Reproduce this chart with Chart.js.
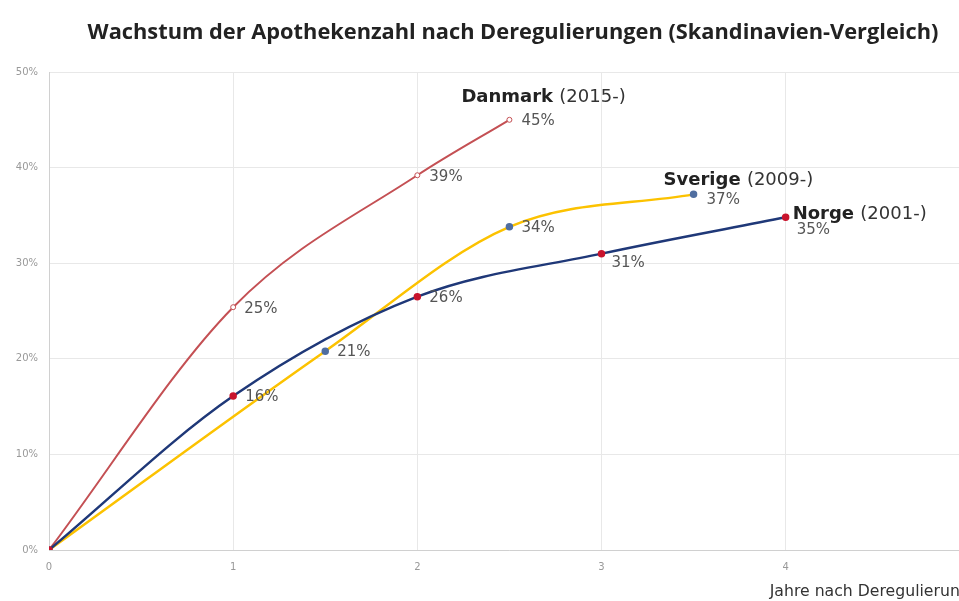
<!DOCTYPE html>
<html>
<head>
<meta charset="utf-8">
<script src="https://cdn.jsdelivr.net/npm/chart.js@4"></script>
<style>
  html, body { margin: 0; padding: 0; overflow: hidden; background: #fff; }
  #wrap { width: 984px; height: 601px; position: relative; }
</style>
</head>
<body>
<div id="wrap"><canvas id="growth" width="984" height="601"></canvas></div>
<script>
(() => {
  'use strict'

  const chartTitle = 'Wachstum der Apothekenzahl nach Deregulierungen (Skandinavien-Vergleich)'
  const xTitle = 'Jahre nach Deregulierung'

  const countries = ['Danmark', 'Norge', 'Sverige']
  const periods = ['(2015-)', '(2001-)', '(2009-)']

  const danmarkYears = [0, 1, 2, 2.5]
  const danmarkGrowth = [0, 25.4, 39.2, 45]
  const danmarkLabels = ['', '25%', '39%', '45%']

  const norgeYears = [0, 1, 2, 3, 4]
  const norgeGrowth = [0, 16.1, 26.5, 31, 34.8]
  const norgeLabels = ['', '16%', '26%', '31%', '35%']

  const sverigeYears = [0, 1.5, 2.5, 3.5]
  const sverigeGrowth = [0, 20.8, 33.8, 37.2]
  const sverigeLabels = ['', '21%', '34%', '37%']

  const points = (xs, ys) => xs.map((x, i) => ({ x: x, y: ys[i] }))

  // label offsets from the point (px)
  const valueOffset = { Danmark: [[0, 0], [11, 2], [12, 2], [12, 1]],
                        Norge: [[0, 0], [12, 1], [12, 1], [10, 9], [11, 13]],
                        Sverige: [[0, 0], [12, 1], [12, 1], [13, 6]] }
  const nameOffset = { Danmark: [-48, -22], Norge: [7, -3], Sverige: [-30, -14] }

  const labelPlugin = {
    id: 'labels',
    afterDatasetsDraw(chart) {
      const c = chart.ctx
      c.save()
      c.fillStyle = '#222'
      c.font = 'bold 21.8px "Open Sans"'
      c.textAlign = 'center'
      c.textBaseline = 'middle'
      c.fillText(chartTitle, 513, 33)

      c.textAlign = 'left'
      chart.data.datasets.forEach((ds, di) => {
        const meta = chart.getDatasetMeta(di)
        c.font = '15px "DejaVu Sans"'
        c.fillStyle = '#555'
        meta.data.forEach((el, i) => {
          const txt = ds.valueLabels[i]
          if (!txt) return
          const off = valueOffset[ds.label][i]
          c.fillText(txt, el.x + off[0], el.y + off[1])
        })
        const last = meta.data[meta.data.length - 1]
        const no = nameOffset[ds.label]
        c.font = 'bold 18px "DejaVu Sans"'
        c.fillStyle = '#222'
        c.fillText(ds.label, last.x + no[0], last.y + no[1])
        const w = c.measureText(ds.label + ' ').width
        c.font = '18px "DejaVu Sans"'
        c.fillStyle = '#333'
        c.fillText(periods[countries.indexOf(ds.label)], last.x + no[0] + w, last.y + no[1])
      })
      c.restore()
    }
  }

  const ctx = document.getElementById('growth')

  new Chart(ctx, {
    type: 'line',
    data: {
      datasets: [{
        label: countries[0],
        data: points(danmarkYears, danmarkGrowth),
        valueLabels: danmarkLabels,
        borderColor: 'rgb(196, 80, 84)',
        borderWidth: 2,
        pointBackgroundColor: '#fff',
        pointBorderColor: 'rgb(196, 80, 84)',
        pointBorderWidth: 1,
        pointRadius: 2.5,
        cubicInterpolationMode: 'monotone',
        order: 3
      }, {
        label: countries[1],
        data: points(norgeYears, norgeGrowth),
        valueLabels: norgeLabels,
        borderColor: 'rgb(31, 56, 120)',
        borderWidth: 2.5,
        pointBackgroundColor: 'rgb(200, 20, 45)',
        pointBorderColor: 'rgb(200, 20, 45)',
        pointRadius: 2.5,
        cubicInterpolationMode: 'monotone',
        order: 1
      }, {
        label: countries[2],
        data: points(sverigeYears, sverigeGrowth),
        valueLabels: sverigeLabels,
        borderColor: 'rgb(252, 194, 0)',
        borderWidth: 2.5,
        pointBackgroundColor: 'rgb(80, 110, 160)',
        pointBorderColor: 'rgb(80, 110, 160)',
        pointRadius: 2.5,
        cubicInterpolationMode: 'monotone',
        order: 2
      }]
    },
    options: {
      responsive: false,
      animation: false,
      layout: { padding: { top: 72, right: 6, left: 0, bottom: 0 } },
      plugins: {
        legend: { display: false },
        tooltip: { enabled: false }
      },
      scales: {
        x: {
          type: 'linear',
          min: 0,
          max: 5,
          grid: { color: '#e8e8e8', drawTicks: false },
          border: { color: '#d0d0d0' },
          ticks: { stepSize: 1, padding: 11, color: '#999', font: { size: 10, family: 'DejaVu Sans' } },
          title: { display: true, text: xTitle, align: 'end', color: '#333',
                   font: { size: 15.7, family: '"DejaVu Sans"' }, padding: { top: 8, bottom: 0 } },
          afterFit: (s) => { s.height = 51 }
        },
        y: {
          min: 0,
          max: 50,
          grid: { color: '#e8e8e8', drawTicks: false },
          border: { color: '#d0d0d0' },
          ticks: { stepSize: 10, padding: 11, color: '#999', font: { size: 10, family: 'DejaVu Sans' },
                   callback: (v) => v + '%' },
          afterFit: (s) => { s.width = 49 }
        }
      }
    },
    plugins: [labelPlugin]
  })
})()
</script>
</body>
</html>
